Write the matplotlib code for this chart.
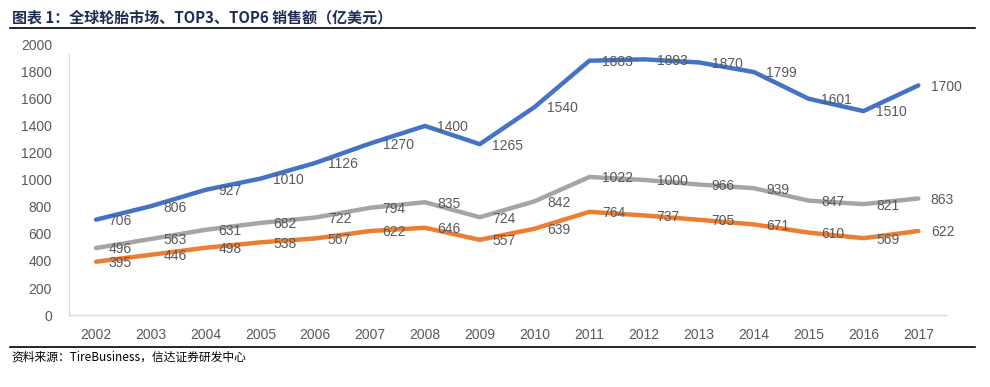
import matplotlib
matplotlib.use("Agg")
import matplotlib.pyplot as plt

plt.rcParams['font.family'] = ['Noto Sans CJK SC', 'DejaVu Sans']

years = ["2002", "2003", "2004", "2005", "2006", "2007", "2008", "2009",
         "2010", "2011", "2012", "2013", "2014", "2015", "2016", "2017"]
global_market = [706, 806, 927, 1010, 1126, 1270, 1400, 1265, 1540, 1883, 1893, 1870, 1799, 1601, 1510, 1700]
top6 = [496, 563, 631, 682, 722, 794, 835, 724, 842, 1022, 1000, 966, 939, 847, 821, 863]
top3 = [395, 446, 498, 538, 567, 622, 646, 557, 639, 764, 737, 705, 671, 610, 569, 622]
y_ticks = [0, 200, 400, 600, 800, 1000, 1200, 1400, 1600, 1800, 2000]

title = "图表 1：全球轮胎市场、TOP3、TOP6 销售额（亿美元）"
source = "资料来源：TireBusiness，信达证券研发中心"

fig = plt.figure(figsize=(9.9, 3.87), dpi=100)
ax = fig.add_axes([0.0693, 0.186, 0.886, 0.698])

x = list(range(len(years)))
series = [(global_market, "#4472C4"), (top6, "#A5A5A5"), (top3, "#ED7D31")]
for vals, col in series:
    ax.plot(x, vals, color=col, lw=3.2, solid_capstyle='round', solid_joinstyle='round')
for vals, col in series:
    for xi, v in zip(x, vals):
        ax.annotate(str(v), (xi, v), xytext=(9, -1), textcoords='offset points',
                    ha='left', va='center', fontsize=10, color='#595959',
                    family=['Liberation Sans', 'DejaVu Sans'])

ax.set_xlim(-0.5, len(years) - 0.5)
ax.set_ylim(0, 2000)
ax.set_yticks(y_ticks)
ax.set_xticks(x)
ax.set_xticklabels(years)
for lab in ax.get_xticklabels() + ax.get_yticklabels():
    lab.set_fontfamily(['Liberation Sans', 'DejaVu Sans'])
    lab.set_fontsize(10)
    lab.set_color('#595959')
ax.tick_params(axis='both', length=0)
ax.tick_params(axis='x', pad=9)
ax.tick_params(axis='y', pad=12)
for s in ['top', 'right']:
    ax.spines[s].set_visible(False)
for s in ['left', 'bottom']:
    ax.spines[s].set_color('#D9D9D9')
    ax.spines[s].set_linewidth(1.0)
ax.spines['left'].set_bounds(0, 1935)

fig.text(0.012, 0.955, title, fontsize=10.8, fontweight='heavy', color='#1F2D55',
         ha='left', va='center')
fig.add_artist(plt.Line2D([0.01, 0.985], [0.928, 0.928], color='black', lw=1.2))
fig.add_artist(plt.Line2D([0.01, 0.985], [0.103, 0.103], color='black', lw=1.2))
fig.text(0.012, 0.078, source, fontsize=8.5, style='italic', color='black',
         ha='left', va='center')

fig.savefig("out.png", dpi=100, facecolor='white')
